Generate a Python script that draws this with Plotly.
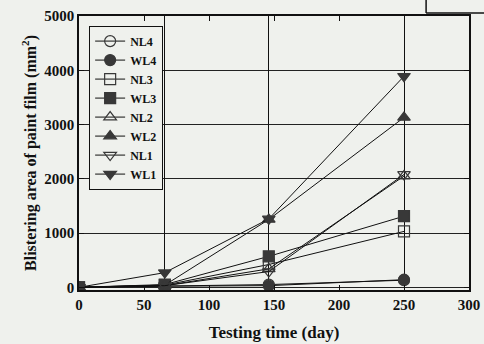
import plotly.graph_objects as go

days = [0, 66, 146, 250]
series_names = ["NL4", "WL4", "NL3", "WL3", "NL2", "WL2", "NL1", "WL1"]
NL4 = [0, 20, 50, 130]
WL4 = [0, 20, 30, 140]
NL3 = [0, 40, 420, 1030]
WL3 = [0, 50, 570, 1310]
NL2 = [0, 30, 340, 2050]
WL2 = [0, 40, 1250, 3130]
NL1 = [0, 30, 290, 2080]
WL1 = [0, 270, 1260, 3890]
values = [NL4, WL4, NL3, WL3, NL2, WL2, NL1, WL1]
symbols = ["circle-open", "circle", "square-open", "square",
           "triangle-up-open", "triangle-up", "triangle-down-open", "triangle-down"]
x_ticks = [0, 50, 100, 150, 200, 250, 300]
y_ticks = [0, 1000, 2000, 3000, 4000, 5000]

BG = "#eff1ed"
INK = "#111111"
MARK = "#383838"
FONT = "Liberation Serif"

fig = go.Figure()
for name, vals, sym in zip(series_names, values, symbols):
    fig.add_trace(go.Scatter(
        x=days, y=vals, name=name, mode="lines+markers",
        line=dict(color=INK, width=1),
        marker=dict(symbol=sym, size=11, color=MARK,
                    line=dict(color=MARK, width=1.2)),
    ))

# invisible trace on overlay axis to show vertical guide lines at sampling days
fig.add_trace(go.Scatter(x=days, y=[None] * len(days), xaxis="x2",
                         showlegend=False, hoverinfo="skip"))

fig.update_layout(
    width=484, height=344,
    margin=dict(l=79, r=15, t=16, b=54),
    paper_bgcolor=BG, plot_bgcolor=BG,
    font=dict(family=FONT, size=15, color=INK),
    showlegend=True,
    legend=dict(x=0.026, y=0.965, xanchor="left", yanchor="top",
                bgcolor=BG, bordercolor=INK, borderwidth=1,
                font=dict(family=FONT, size=12, color=INK, weight="bold"),
                tracegroupgap=0, itemwidth=30),
    xaxis=dict(range=[0, 300], tickvals=x_ticks, ticks="inside", ticklen=5,
               tickcolor=INK, showline=True, linecolor=INK, linewidth=1.5,
               mirror="ticks", showgrid=False, zeroline=False, automargin=False,
               tickfont=dict(family=FONT, size=15, weight="bold"),
               title=dict(text="Testing time (day)", standoff=14,
                          font=dict(family=FONT, size=17, weight="bold"))),
    xaxis2=dict(range=[0, 300], overlaying="x", tickvals=days[1:],
                showticklabels=False, showgrid=True, gridcolor=INK,
                gridwidth=1, zeroline=False, ticks="", automargin=False),
    yaxis=dict(range=[-50, 5000], tickvals=y_ticks, ticks="inside", ticklen=5,
               tickcolor=INK, showline=True, linecolor=INK, linewidth=1.5,
               mirror="ticks", showgrid=True, gridcolor="#222222", gridwidth=1,
               zeroline=False, automargin=False,
               tickfont=dict(family=FONT, size=15, weight="bold"),
               title=dict(text="Blistering area of paint film (mm<sup>2</sup>)",
                          standoff=4,
                          font=dict(family=FONT, size=16, weight="bold"))),
)

# scan artifact: corner of neighbouring frame at top right
fig.add_shape(type="line", xref="paper", yref="paper",
              x0=0.89, x1=1.04, y0=1.011, y1=1.011,
              line=dict(color=INK, width=1.5))
fig.add_shape(type="line", xref="paper", yref="paper",
              x0=0.89, x1=0.89, y0=1.011, y1=1.06,
              line=dict(color=INK, width=1.5))

fig.write_html("out.html")
